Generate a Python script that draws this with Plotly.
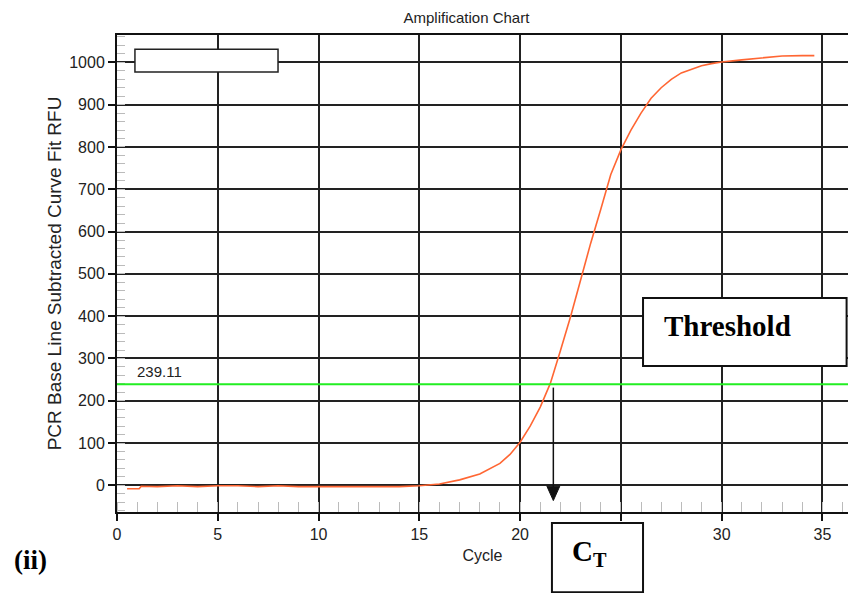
import plotly.graph_objects as go

# ---- data ----
cycles = [0.5, 1.1, 1.2, 2, 3, 4, 5, 6, 7, 8, 9, 10, 11, 12, 13, 14, 15, 16, 17, 18, 19,
          19.5, 20, 20.5, 21, 21.5, 22, 22.5, 23, 23.5, 24, 24.5, 25, 25.5, 26, 26.5, 27, 27.5,
          28, 28.5, 29, 29.5, 30, 31, 32, 33, 34, 34.6]
rfu = [-8, -8, -2, -3, -1, -3, -1, -1, -3, -1, -3, -3, -3, -3, -3, -3, -1, 3, 13, 27, 52,
       73, 102, 140, 185, 241, 318, 398, 485, 572, 652, 735, 793, 840, 880, 915, 940, 960,
       975, 984, 992, 997, 1001, 1006, 1011, 1015, 1016, 1016]
threshold = 239.11
ct_cycle = 21.65
x_ticks = [0, 5, 10, 15, 20, 25, 30, 35]
y_ticks = [0, 100, 200, 300, 400, 500, 600, 700, 800, 900, 1000]

SANS = "Liberation Sans, Arial, sans-serif"
SERIF = "Liberation Serif, Times New Roman, serif"

fig = go.Figure()

fig.add_trace(go.Scatter(x=cycles, y=rfu, mode="lines",
                         line=dict(color="#ff6633", width=1.6),
                         showlegend=False, hoverinfo="skip"))

# threshold line
fig.add_shape(type="line", xref="paper", x0=0, x1=1, yref="y", y0=threshold, y1=threshold,
              line=dict(color="#22ee22", width=2), layer="above")

# legend placeholder box (top-left)
fig.add_shape(type="rect", xref="x", yref="y", x0=0.89, x1=7.99, y0=977, y1=1031,
              line=dict(color="#222222", width=1.5), fillcolor="white", layer="above")

# Threshold box
fig.add_shape(type="rect", xref="x", yref="y", x0=26.1, x1=36.2, y0=282, y1=443,
              line=dict(color="#111111", width=2), fillcolor="white", layer="above")

# C_T box (below the axis)
fig.add_shape(type="rect", xref="paper", yref="paper", x0=0.595, x1=0.7196, y0=-0.168, y1=-0.023,
              line=dict(color="#111111", width=2), fillcolor="white", layer="above")

# arrow from threshold crossing down to axis
fig.add_shape(type="line", xref="x", yref="y", x0=ct_cycle, x1=ct_cycle, y0=threshold - 8, y1=-5,
              line=dict(color="#111111", width=1.5), layer="above")
fig.add_shape(type="path", xref="x", yref="y",
              path=f"M {ct_cycle - 0.32} -2 L {ct_cycle + 0.32} -2 L {ct_cycle} -36 Z",
              line=dict(color="#111111", width=1), fillcolor="#111111", layer="above")

fig.add_annotation(x=0.89, y=threshold, xref="x", yref="y", text="239.11", showarrow=False,
                   xanchor="left", yanchor="bottom", yshift=2,
                   font=dict(family=SANS, size=15, color="#222"))

fig.add_annotation(x=30.3, y=376, xref="x", yref="y", text="<b>Threshold</b>", showarrow=False,
                   xanchor="center", yanchor="middle",
                   font=dict(family=SERIF, size=29, color="black"))

fig.add_annotation(x=0.647, y=-0.086, xref="paper", yref="paper", text="<b>C<sub>T</sub></b>",
                   showarrow=False, xanchor="center", yanchor="middle",
                   font=dict(family=SERIF, size=29, color="black"))

fig.add_annotation(x=-0.119, y=-0.10, xref="paper", yref="paper", text="<b>(ii)</b>",
                   showarrow=False, xanchor="center", yanchor="middle",
                   font=dict(family=SERIF, size=27, color="black"))

fig.update_layout(
    width=848, height=593, autosize=False,
    margin=dict(l=117, r=0, t=35, b=81, autoexpand=False),
    paper_bgcolor="white", plot_bgcolor="white",
    title=dict(text="Amplification Chart", x=0.55, xanchor="center", y=0.97, yanchor="middle",
               font=dict(family=SANS, size=15, color="#222")),
    xaxis=dict(range=[0, 36.27], tickvals=x_ticks, ticks="outside", ticklen=7, tickwidth=1.5,
               tickcolor="#111", showgrid=True, gridcolor="#222222", gridwidth=1.9,
               showline=True, linecolor="#111", linewidth=2, mirror=True, zeroline=False,
               automargin=False,
               tickfont=dict(family=SANS, size=16, color="#222"),
               title=dict(text="Cycle", font=dict(family=SANS, size=16, color="#222"), standoff=8),
               minor=dict(dtick=1, tick0=0, ticks="inside", ticklen=10, tickcolor="#bbbbbb",
                          tickwidth=1.2, showgrid=False)),
    yaxis=dict(range=[-63, 1064.7], tickvals=y_ticks, ticks="outside", ticklen=7, tickwidth=1.5,
               tickcolor="#111", showgrid=True, gridcolor="#222222", gridwidth=1.9,
               showline=True, linecolor="#111", linewidth=2, zeroline=False,
               automargin=False,
               tickfont=dict(family=SANS, size=16, color="#222"),
               title=dict(text="PCR Base Line Subtracted Curve Fit RFU",
                          font=dict(family=SANS, size=19, color="#222"), standoff=3),
               minor=dict(dtick=20, tick0=0, ticks="inside", ticklen=8, tickcolor="#bbbbbb",
                          tickwidth=1.2, showgrid=False)),
)

fig.write_html("out.html", config={"displayModeBar": False},
               post_script="document.body.style.margin='0px';document.body.style.padding='0px';")
